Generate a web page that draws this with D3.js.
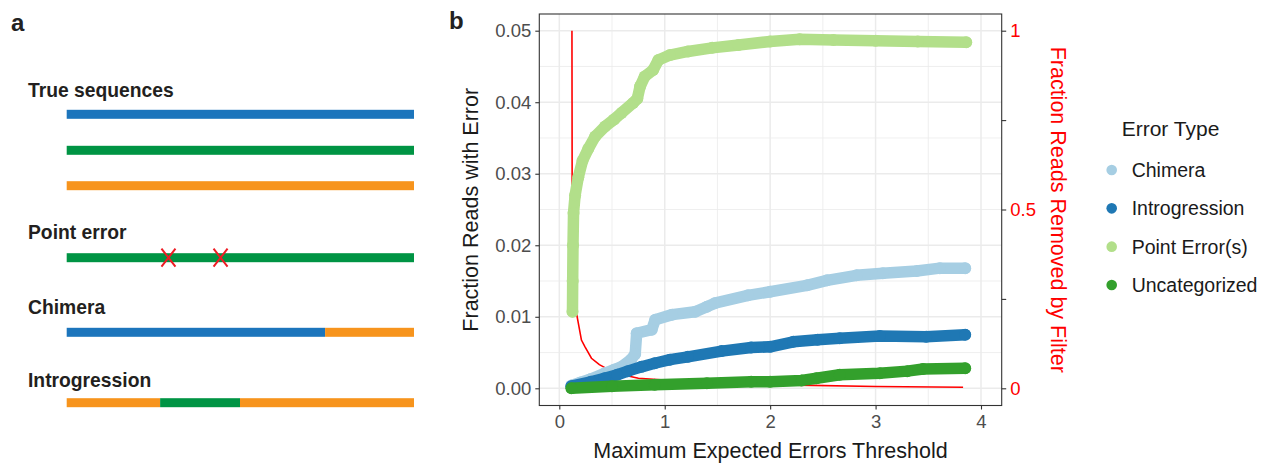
<!DOCTYPE html>
<html><head><meta charset="utf-8">
<script src="https://cdn.jsdelivr.net/npm/d3@7"></script>
<style>
body{margin:0;background:#fff}
svg{display:block}
text{font-family:"Liberation Sans",Arial,Helvetica,sans-serif}
</style>
</head><body><svg id="c" width="1266" height="464"></svg>
<script>
// ---------- data ----------
const seriesNames = ["Chimera", "Introgression", "Point Error(s)", "Uncategorized"];
const seriesColors = ["#a6cee3", "#1f78b4", "#b2df8a", "#33a02c"];

const chimera = [[0.115,0.0004],[0.2,0.0008],[0.3,0.0013],[0.43,0.0021],[0.52,0.0026],[0.59,0.003],[0.68,0.004],[0.72,0.0048],[0.734,0.0077],[0.877,0.0082],[0.91,0.0096],[1.07,0.0103],[1.29,0.0107],[1.4,0.0114],[1.475,0.0119],[1.79,0.013],[2.0,0.0135],[2.35,0.0144],[2.54,0.0151],[2.82,0.0158],[3.07,0.0161],[3.39,0.0164],[3.61,0.0168],[3.85,0.0168]];
const introgression = [[0.115,0.0003],[0.3,0.0009],[0.43,0.0014],[0.55,0.0019],[0.65,0.0024],[0.78,0.003],[0.905,0.0035],[1.05,0.004],[1.22,0.0044],[1.54,0.0052],[1.82,0.0057],[2.0,0.0058],[2.22,0.0065],[2.45,0.0068],[2.66,0.007],[3.04,0.0073],[3.48,0.0072],[3.85,0.0075]];
const pointError = [[0.125,0.0107],[0.127,0.015],[0.13,0.020],[0.135,0.0245],[0.15,0.027],[0.18,0.0295],[0.22,0.0318],[0.275,0.0335],[0.34,0.0352],[0.434,0.0366],[0.52,0.0376],[0.59,0.0385],[0.70,0.0399],[0.74,0.0405],[0.766,0.0422],[0.81,0.0436],[0.89,0.0445],[0.94,0.0459],[1.05,0.0466],[1.22,0.0471],[1.45,0.0476],[1.7,0.048],[2.0,0.0485],[2.28,0.0488],[2.6,0.0487],[3.0,0.0486],[3.4,0.0485],[3.86,0.0484]];
const uncategorized = [[0.115,0.0],[0.5,0.0003],[0.905,0.0005],[1.4,0.0007],[1.82,0.0009],[2.0,0.0009],[2.3,0.0011],[2.44,0.0014],[2.66,0.0019],[3.04,0.0021],[3.3,0.0024],[3.45,0.0027],[3.85,0.0028]];
const removed = [[0.12,1.0],[0.121,0.8],[0.122,0.55],[0.125,0.4],[0.13,0.3],[0.14,0.25],[0.163,0.21],[0.21,0.135],[0.244,0.116],[0.305,0.084],[0.38,0.066],[0.463,0.053],[0.6,0.038],[0.75,0.028],[1.0,0.023],[1.5,0.015],[2.25,0.009],[3.0,0.005],[3.83,0.003]];

const xTicks = [0, 1, 2, 3, 4];
const xTickLabels = ["0", "1", "2", "3", "4"];
const yTicks = [0, 0.01, 0.02, 0.03, 0.04, 0.05];
const yTickLabels = ["0.00", "0.01", "0.02", "0.03", "0.04", "0.05"];
const y2Ticks = [0, 0.25, 0.5, 0.75, 1];
const y2TickLabels = ["0", "", "0.5", "", "1"];

// diagram (panel a)
const diagramTitles = ["True sequences", "Point error", "Chimera", "Introgression"];
const diagramRows = [
  [["blue",0,1]],
  [["green",0,1]],
  [["orange",0,1]],
  [["green",0,1]],
  [["blue",0,0.744],["orange",0.744,1]],
  [["orange",0,0.269],["green",0.269,0.499],["orange",0.499,1]]
];
const pointErrorMarks = [0.293, 0.443];
const diagramColors = {blue:"#1c75bc", green:"#009444", orange:"#f7941d"};

// ---------- layout ----------
const svg = d3.select("#c");
svg.append("rect").attr("width",1266).attr("height",464).attr("fill","#fff");

const font = '"Liberation Sans",Arial,Helvetica,sans-serif';

// panel a
const rowY = [114.3, 150.3, 185.7, 257.7, 332.3, 402.7];
const titleY = [97, 238.5, 314, 387];
const xa = d3.scaleLinear().domain([0,1]).range([66.7, 414]);
svg.append("text").attr("x",11).attr("y",31).attr("font-size",24).attr("font-weight","bold").attr("fill","#222").text("a");
diagramTitles.forEach((t,i)=>{
  svg.append("text").attr("x",28).attr("y",titleY[i]).attr("font-size",19.3).attr("font-weight","bold").attr("fill","#231f20").text(t);
});
diagramRows.forEach((segs,i)=>{
  svg.selectAll(null).data(segs).enter().append("rect")
    .attr("x",d=>xa(d[1])).attr("width",d=>xa(d[2])-xa(d[1]))
    .attr("y",rowY[i]-4.5).attr("height",9)
    .attr("fill",d=>diagramColors[d[0]]);
});
pointErrorMarks.forEach(m=>{
  const cx = xa(m), cy = rowY[3];
  svg.append("path").attr("d",`M${cx-7},${cy-9}L${cx+7},${cy+9}M${cx+7},${cy-9}L${cx-7},${cy+9}`)
    .attr("stroke","#ed1c24").attr("stroke-width",2).attr("fill","none");
});

// panel b
svg.append("text").attr("x",449).attr("y",29).attr("font-size",24).attr("font-weight","bold").attr("fill","#222").text("b");

const P = {left:539.3, right:1001.7, top:14, bottom:405.5};
const x = d3.scaleLinear().domain([0,4]).range([559.3, 981]);
const y = d3.scaleLinear().domain([0,0.05]).range([388.3, 30.7]);
const y2 = d3.scaleLinear().domain([0,1]).range([388.3, 30.7]);

const g = svg.append("g");
g.append("rect").attr("x",P.left).attr("y",P.top).attr("width",P.right-P.left).attr("height",P.bottom-P.top).attr("fill","#fff");
// minor grid
const xMinor = [0.5,1.5,2.5,3.5];
const yMinor = [0.005,0.015,0.025,0.035,0.045];
g.selectAll(".xm").data(xMinor).enter().append("line")
  .attr("x1",d=>x(d)).attr("x2",d=>x(d)).attr("y1",P.top).attr("y2",P.bottom)
  .attr("stroke","#ebebeb").attr("stroke-width",0.8);
g.selectAll(".ym").data(yMinor).enter().append("line")
  .attr("y1",d=>y(d)).attr("y2",d=>y(d)).attr("x1",P.left).attr("x2",P.right)
  .attr("stroke","#ebebeb").attr("stroke-width",0.8);
// major grid
g.selectAll(".xM").data(xTicks).enter().append("line")
  .attr("x1",d=>x(d)).attr("x2",d=>x(d)).attr("y1",P.top).attr("y2",P.bottom)
  .attr("stroke","#ebebeb").attr("stroke-width",1.5);
g.selectAll(".yM").data(yTicks).enter().append("line")
  .attr("y1",d=>y(d)).attr("y2",d=>y(d)).attr("x1",P.left).attr("x2",P.right)
  .attr("stroke","#ebebeb").attr("stroke-width",1.5);

// clip
svg.append("clipPath").attr("id","clip").append("rect")
  .attr("x",P.left).attr("y",P.top).attr("width",P.right-P.left).attr("height",P.bottom-P.top);
const plot = g.append("g").attr("clip-path","url(#clip)");

// red line (secondary axis)
plot.append("path").datum(removed)
  .attr("d", d3.line().x(d=>x(d[0])).y(d=>y2(d[1])))
  .attr("fill","none").attr("stroke","#ff0000").attr("stroke-width",1.6);

// point series
const allSeries = [chimera, introgression, pointError, uncategorized];
allSeries.forEach((s,i)=>{
  const sg = plot.append("g");
  sg.append("path").datum(s)
    .attr("d", d3.line().x(d=>x(d[0])).y(d=>y(d[1])))
    .attr("fill","none").attr("stroke",seriesColors[i]).attr("stroke-width",11.5)
    .attr("stroke-linecap","round").attr("stroke-linejoin","round");
  sg.selectAll("circle").data(s).enter().append("circle")
    .attr("cx",d=>x(d[0])).attr("cy",d=>y(d[1])).attr("r",6).attr("fill",seriesColors[i]);
});

// border
g.append("rect").attr("x",P.left).attr("y",P.top).attr("width",P.right-P.left).attr("height",P.bottom-P.top)
  .attr("fill","none").attr("stroke","#333").attr("stroke-width",1.1);

// axes
const axB = d3.axisBottom(x).tickValues(xTicks).tickFormat((d,i)=>xTickLabels[i]).tickSize(4).tickPadding(5);
const gb = svg.append("g").attr("transform",`translate(0,${P.bottom})`).call(axB);
const axL = d3.axisLeft(y).tickValues(yTicks).tickFormat((d,i)=>yTickLabels[i]).tickSize(4).tickPadding(4);
const gl = svg.append("g").attr("transform",`translate(${P.left},0)`).call(axL);
const axR = d3.axisRight(y2).tickValues(y2Ticks).tickFormat((d,i)=>y2TickLabels[i]).tickSize(4.5).tickPadding(4);
const gr = svg.append("g").attr("transform",`translate(${P.right},0)`).call(axR);
[gb,gl,gr].forEach(a=>{
  a.select(".domain").remove();
  a.selectAll(".tick line").attr("stroke","#333").attr("stroke-width",1.1);
  a.selectAll(".tick text").attr("font-family",font).attr("font-size",18.5).attr("fill","#4d4d4d");
});
gr.selectAll(".tick text").attr("fill","#ff0000");

// axis titles
svg.append("text").attr("x",(P.left+P.right)/2).attr("y",458).attr("text-anchor","middle")
  .attr("font-size",21.5).attr("fill","#1a1a1a").text("Maximum Expected Errors Threshold");
svg.append("text").attr("transform",`translate(478,${(P.top+P.bottom)/2}) rotate(-90)`).attr("text-anchor","middle")
  .attr("font-size",21.5).attr("fill","#1a1a1a").text("Fraction Reads with Error");
svg.append("text").attr("transform",`translate(1050.5,${(P.top+P.bottom)/2}) rotate(90)`).attr("text-anchor","middle")
  .attr("font-size",21.5).attr("fill","#ff0000").text("Fraction Reads Removed by Filter");

// legend
const lg = svg.append("g");
lg.append("text").attr("x",1121.7).attr("y",136).attr("font-size",21).attr("fill","#1a1a1a").text("Error Type");
const legY = d3.scalePoint().domain(seriesNames).range([170, 285]);
seriesNames.forEach((n,i)=>{
  lg.append("circle").attr("cx",1111.7).attr("cy",legY(n)).attr("r",5.3).attr("fill",seriesColors[i]);
  lg.append("text").attr("x",1131.7).attr("y",legY(n)+7).attr("font-size",19.5).attr("fill","#1a1a1a").text(n);
});
</script>
</body></html>
